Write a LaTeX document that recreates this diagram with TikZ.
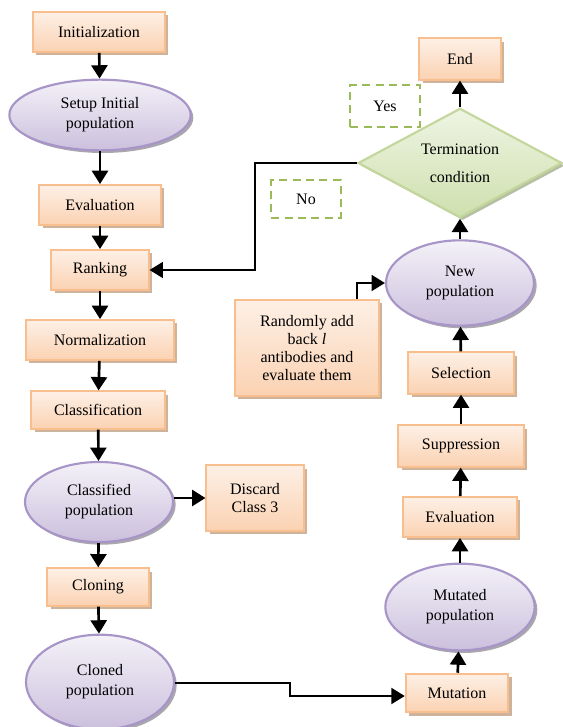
\documentclass[tikz,border=0pt]{standalone}
\usepackage{fontspec}
\setmainfont{Liberation Serif}
\usepackage{xcolor}
\usetikzlibrary{shapes.geometric, arrows.meta, shadows}

\definecolor{boxline}{HTML}{F8BE8E}
\definecolor{boxtop}{HTML}{FDF0E6}
\definecolor{boxbot}{HTML}{FBD2B2}
\definecolor{boxshade}{HTML}{CDB29C}
\definecolor{ellline}{HTML}{A895C8}
\definecolor{elltop}{HTML}{F4F1F8}
\definecolor{ellbot}{HTML}{CBC0DD}
\definecolor{ellshade}{HTML}{A9A6AE}
\definecolor{dialine}{HTML}{C3D69B}
\definecolor{diatop}{HTML}{EEF4E3}
\definecolor{diabot}{HTML}{CFE0AE}
\definecolor{diashade}{HTML}{B5BFA3}
\definecolor{dashgreen}{HTML}{9BBB59}

\begin{document}
\begin{tikzpicture}[
  x=0.75pt, y=-0.75pt,
  every node/.style={font=\rmfamily\fontsize{12}{15}\selectfont, align=center},
  box/.style={rectangle, draw=boxline, line width=1.4pt, top color=boxtop, bottom color=boxbot,
    drop shadow={shadow xshift=2.5pt, shadow yshift=-2.5pt, fill=boxshade, opacity=1}},
  pop/.style={ellipse, draw=ellline, line width=1.6pt, top color=elltop, bottom color=ellbot,
    drop shadow={shadow xshift=2pt, shadow yshift=-2pt, fill=ellshade, opacity=1}},
  test/.style={diamond, aspect=1.86, inner sep=1pt, draw=dialine, line width=1.6pt, top color=diatop, bottom color=diabot,
    drop shadow={shadow xshift=2pt, shadow yshift=-2pt, fill=diashade, opacity=1}},
  answer/.style={rectangle, draw=dashgreen, line width=1.6pt, dash pattern=on 6pt off 4pt},
  flow/.style={line width=2pt, -{Triangle[length=10pt, width=12pt]}},
  conn/.style={line width=1.3pt, -{Triangle[length=10pt, width=12pt]}}
]
  \useasboundingbox (0,0) rectangle (562,727);

  % left column
  \node[box, minimum width=99pt, minimum height=30pt] (init) at (99,32) {Initialization};
  \node[pop, minimum width=136pt, minimum height=53pt] (setup) at (100,115) {Setup Initial\\population};
  \node[box, minimum width=91pt, minimum height=30pt] (evalA) at (100,205) {Evaluation};
  \node[box, minimum width=73pt, minimum height=30pt] (rank) at (100,270) {Ranking};
  \node[box, minimum width=111pt, minimum height=30pt] (norm) at (100,340) {Normalization};
  \node[box, minimum width=100pt, minimum height=28pt] (classif) at (98,410) {Classification};
  \node[pop, minimum width=111pt, minimum height=60pt] (classpop) at (99,502) {Classified\\population};
  \node[box, minimum width=73pt, minimum height=49pt, font=\rmfamily\fontsize{12}{13.5}\selectfont] (discard) at (255,498) {Discard\\Class 3};
  \node[box, minimum width=76pt, minimum height=28pt] (clone) at (98,587) {Cloning};
  \node[pop, minimum width=111pt, minimum height=71pt] (clonepop) at (100,682) {Cloned\\population};

  % right column
  \node[box, minimum width=77pt, minimum height=29pt] (mut) at (457,693) {Mutation};
  \node[pop, minimum width=112pt, minimum height=65pt] (mutpop) at (460,607) {Mutated\\population};
  \node[box, minimum width=85pt, minimum height=30pt] (evalB) at (460,517) {Evaluation};
  \node[box, minimum width=94pt, minimum height=31pt] (supp) at (461,446) {Suppression};
  \node[box, minimum width=79pt, minimum height=31pt] (select) at (461,373) {Selection};
  \node[pop, minimum width=111pt, minimum height=64pt] (newpop) at (460,283) {New\\population};
  \node[box, minimum width=108pt, minimum height=72pt, font=\rmfamily\fontsize{12}{13.5}\selectfont] (addback) at (307,348)
    {Randomly add\\back \textit{l}\\antibodies and\\evaluate them};
  \node[test, minimum width=153pt, minimum height=82pt, font=\rmfamily\fontsize{12}{21}\selectfont] (term) at (460,163) {Termination\\condition};
  \node[box, minimum width=61pt, minimum height=31pt] (finish) at (460,59) {End};
  \node[answer, minimum width=52pt, minimum height=31pt] (yes) at (385,106) {Yes};
  \node[answer, minimum width=52pt, minimum height=28pt] (no) at (306,199) {No};

  % bends
  \coordinate (bendA) at (255,270);
  \coordinate (bendB) at (290,683);
  \coordinate (bendC) at (290,696);
  \coordinate (bendD) at (357,283);

  \draw[flow] (init) -- (setup);
  \draw[flow] (setup) -- (evalA);
  \draw[flow] (evalA) -- (rank);
  \draw[flow] (rank) -- (norm);
  \draw[flow] (norm) -- (classif);
  \draw[flow] (classif) -- (classpop);
  \draw[flow] (classpop.east |- discard) -- (discard.west);
  \draw[flow] (classpop) -- (clone);
  \draw[flow] (clone) -- (clonepop);
  \draw[conn] (clonepop.east |- bendB) -- (bendB) -- (bendC) -- (mut.west |- bendC);
  \draw[flow] (mut) -- (mutpop);
  \draw[flow] (mutpop) -- (evalB);
  \draw[flow] (evalB) -- (supp);
  \draw[flow] (supp) -- (select);
  \draw[flow] (select) -- (newpop);
  \draw[conn] (addback.north -| bendD) -- (bendD) -- (newpop.west);
  \draw[flow] (newpop) -- (term);
  \draw[flow] (term) -- (finish);
  \draw[conn] (term.west) -| (bendA) -- (rank.east);
\end{tikzpicture}
\end{document}
